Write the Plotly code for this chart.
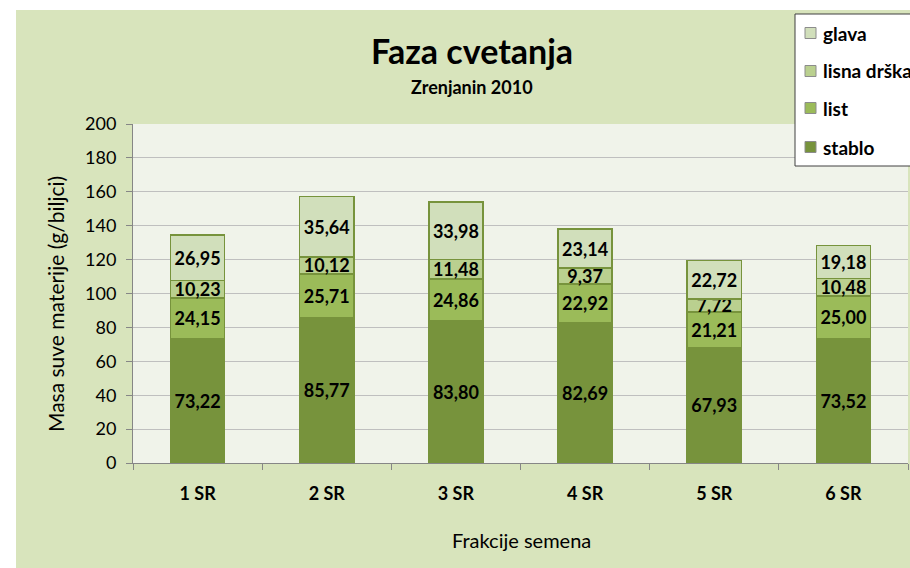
import plotly.graph_objects as go

categories = ["1 SR", "2 SR", "3 SR", "4 SR", "5 SR", "6 SR"]
stablo = [73.22, 85.77, 83.80, 82.69, 67.93, 73.52]
list_ = [24.15, 25.71, 24.86, 22.92, 21.21, 25.00]
lisna_drska = [10.23, 10.12, 11.48, 9.37, 7.72, 10.48]
glava = [26.95, 35.64, 33.98, 23.14, 22.72, 19.18]

series = [
    ("stablo", stablo, "#77933c"),
    ("list", list_, "#9bbb59"),
    ("lisna drška", lisna_drska, "#bad08f"),
    ("glava", glava, "#d1dfbb"),
]

FONT = "Lato"
W, H = 910, 568
L, R, T, B = 133, 2, 124, 105
pw = W - L - R
ph = H - T - B


def px_x(sx):
    return (sx - L) / pw


def px_y(sy):
    return (H - B - sy) / ph


fig = go.Figure()
for name, vals, col in series:
    fig.add_trace(go.Bar(
        x=categories, y=vals, name=name, showlegend=False,
        marker=dict(color=col, line=dict(color="#77933c", width=1.5)),
        texttemplate="%{y:.2f}", textposition="inside", insidetextanchor="middle",
        constraintext="none",
        textfont=dict(family=FONT, size=18, color="black", weight="bold"),
    ))

shapes = [
    # white strips at the left and top edge
    dict(type="rect", xref="paper", yref="paper", layer="above",
         x0=px_x(-20), x1=px_x(16), y0=px_y(600), y1=px_y(-20),
         fillcolor="white", line=dict(width=0)),
    dict(type="rect", xref="paper", yref="paper", layer="above",
         x0=px_x(-20), x1=px_x(940), y0=px_y(10), y1=px_y(-20),
         fillcolor="white", line=dict(width=0)),
    # legend box
    dict(type="rect", xref="paper", yref="paper", layer="above",
         x0=px_x(795), x1=px_x(960), y0=px_y(166), y1=px_y(14),
         fillcolor="white", line=dict(color="#404040", width=1)),
]
annotations = [
    dict(text="Faza cvetanja", x=px_x(472), y=px_y(51), xref="paper", yref="paper",
         showarrow=False, xanchor="center", yanchor="middle",
         font=dict(family=FONT, size=34, color="black", weight="bold")),
    dict(text="Zrenjanin 2010", x=px_x(472), y=px_y(87), xref="paper", yref="paper",
         showarrow=False, xanchor="center", yanchor="middle",
         font=dict(family=FONT, size=18, color="black", weight="bold")),
    dict(text="Masa suve materije (g/biljci)", x=px_x(55), y=px_y(304), xref="paper", yref="paper",
         showarrow=False, xanchor="center", yanchor="middle", textangle=-90,
         font=dict(family=FONT, size=21, color="black")),
    dict(text="Frakcije semena", x=px_x(521), y=px_y(540), xref="paper", yref="paper",
         showarrow=False, xanchor="center", yanchor="middle",
         font=dict(family=FONT, size=20, color="black")),
]

legend_rows = [33, 71, 108, 147]
for (name, _, col), sy in zip(reversed(series), legend_rows):
    shapes.append(dict(type="rect", xref="paper", yref="paper", layer="above",
                       x0=px_x(805), x1=px_x(816), y0=px_y(sy + 5.5), y1=px_y(sy - 5.5),
                       fillcolor=col, line=dict(color="#8c8c8c", width=1)))
    annotations.append(dict(text=name, x=px_x(821), y=px_y(sy), xref="paper", yref="paper",
                            showarrow=False, xanchor="left", yanchor="middle",
                            font=dict(family=FONT, size=19, color="black", weight="bold")))

fig.update_layout(
    width=W, height=H,
    barmode="stack", bargap=0.58,
    separators=",.",
    paper_bgcolor="#d8e4bc",
    plot_bgcolor="#f0f3ea",
    margin=dict(l=L, r=R, t=T, b=B, autoexpand=False),
    font=dict(family=FONT, color="black"),
    showlegend=False,
    hovermode=False,
    shapes=shapes,
    annotations=annotations,
)

fig.update_xaxes(
    showline=True, linecolor="#868686", linewidth=1,
    ticks="outside", tickson="boundaries", ticklen=6, tickcolor="#868686",
    tickfont=dict(family=FONT, size=18, color="black", weight="bold"),
    ticklabelstandoff=14,
)
fig.update_yaxes(
    range=[0, 200], dtick=20,
    showline=True, linecolor="#868686", linewidth=1,
    ticks="outside", ticklen=6, tickcolor="#868686",
    showgrid=True, gridcolor="#bfbfbf", gridwidth=1,
    zeroline=False,
    tickfont=dict(family=FONT, size=18, color="black"),
    ticklabelstandoff=6,
)

fig.write_html(
    "out.html",
    config={"displayModeBar": False},
    post_script="document.body.style.margin='0';document.body.style.overflow='hidden';",
)
